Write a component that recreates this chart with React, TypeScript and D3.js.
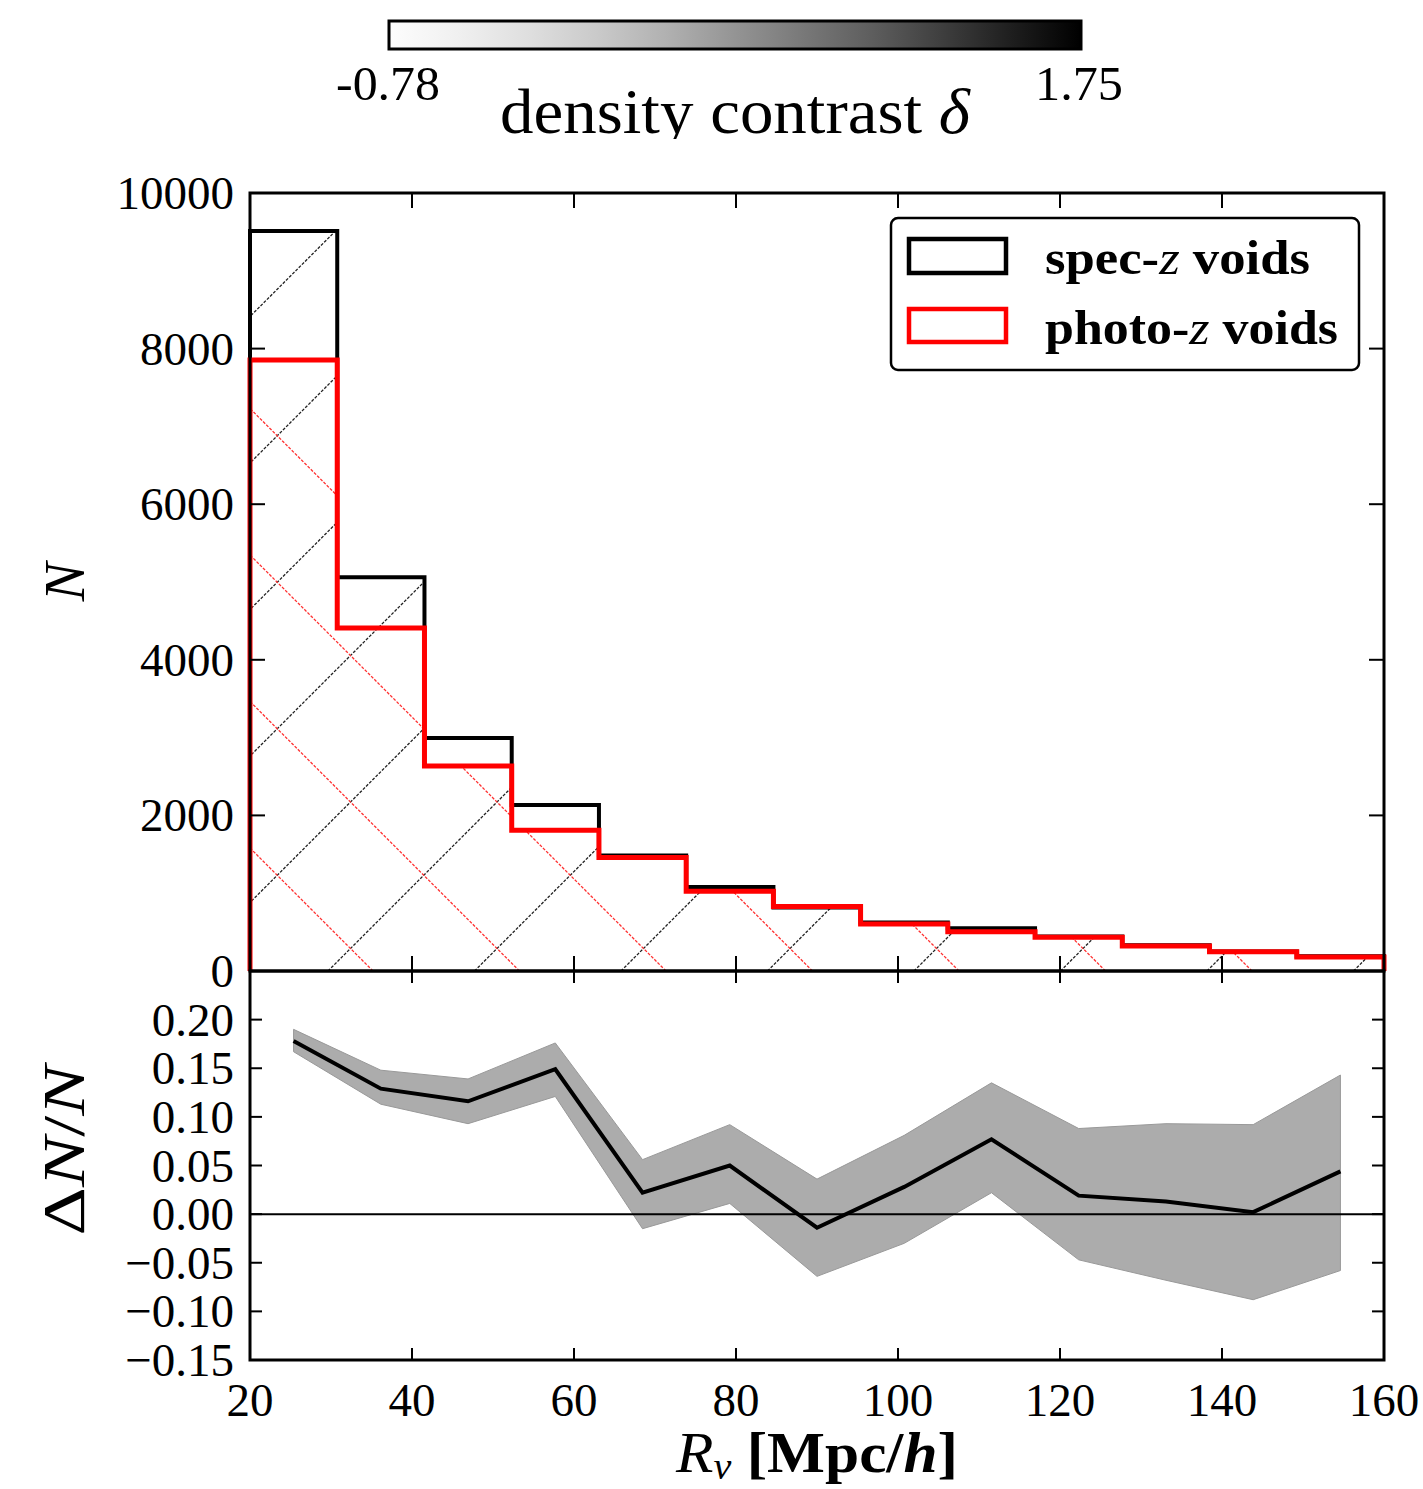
import React from "react";
import * as d3 from "d3";

// ---------- data ----------
const binEdges = [20, 30.77, 41.54, 52.31, 63.08, 73.85, 84.62, 95.38, 106.15, 116.92, 127.69, 138.46, 149.23, 160];
const specCounts = [9510, 5060, 2995, 2135, 1485, 1080, 817, 625, 550, 445, 330, 250, 188];
const photoCounts = [7855, 4410, 2635, 1810, 1460, 1025, 828, 605, 505, 435, 322, 247, 180];

const binCenters = [25.38, 36.15, 46.92, 57.69, 68.46, 79.23, 90.0, 100.77, 111.54, 122.31, 133.08, 143.85, 154.62];
const ratio = [0.178, 0.129, 0.116, 0.149, 0.022, 0.05, -0.014, 0.028, 0.077, 0.019, 0.013, 0.002, 0.044];
const ratioUpper = [0.19, 0.148, 0.139, 0.176, 0.056, 0.092, 0.036, 0.081, 0.135, 0.088, 0.093, 0.092, 0.143];
const ratioLower = [0.167, 0.113, 0.093, 0.121, -0.015, 0.011, -0.064, -0.03, 0.022, -0.047, -0.068, -0.088, -0.058];

const xTicks = [20, 40, 60, 80, 100, 120, 140, 160];
const topYTicks = [0, 2000, 4000, 6000, 8000, 10000];
const botYTicks = [-0.15, -0.1, -0.05, 0, 0.05, 0.1, 0.15, 0.2];
const botYLabels = ["\u22120.15", "\u22120.10", "\u22120.05", "0.00", "0.05", "0.10", "0.15", "0.20"];
const cbarMin = "-0.78";
const cbarMax = "1.75";

// ---------- layout ----------
const W = 1423, H = 1489;
const L = 250, R = 1384;
const topT = 193, topB = 971;
const botT = 971, botB = 1360;
const FONT = "'Liberation Serif', 'DejaVu Serif', serif";

const x = d3.scaleLinear().domain([20, 160]).range([L, R]);
const yTop = d3.scaleLinear().domain([0, 10000]).range([topB, topT]);
const yBot = d3.scaleLinear().domain([-0.15, 0.25]).range([botB, botT]);

function stepPoints(vals: number[]): [number, number][] {
  const pts: [number, number][] = [[binEdges[0], 0]];
  vals.forEach((v, i) => {
    pts.push([binEdges[i], v]);
    pts.push([binEdges[i + 1], v]);
  });
  pts.push([binEdges[binEdges.length - 1], 0]);
  return pts;
}

const stepLine = d3.line<[number, number]>().x(d => x(d[0])).y(d => yTop(d[1]));

function hatchLines(dir: 1 | -1, start: number, spacing: number) {
  const lines: JSX.Element[] = [];
  for (let k = -8; k <= 10; k++) {
    const x0 = start + k * spacing;
    const x1 = x0 + dir * 900;
    lines.push(<line key={k} x1={x0} y1={topB} x2={x1} y2={topB - 900} />);
  }
  return lines;
}

const TICK_FS = 47;

export default function App() {
  const specD = stepLine(stepPoints(specCounts)) || "";
  const photoD = stepLine(stepPoints(photoCounts)) || "";

  const band = d3.area<number>()
    .x((_, i) => x(binCenters[i]))
    .y0((_, i) => yBot(ratioLower[i]))
    .y1((_, i) => yBot(ratioUpper[i]));
  const ratioLine = d3.line<number>().x((_, i) => x(binCenters[i])).y(d => yBot(d));

  const gradStops = d3.range(0, 1.0001, 0.1).map(t => ({ t, c: d3.interpolateGreys(0.02 + t * 0.98) }));

  const tickLen = 15;
  const tickLenB = 12;

  return (
    <svg width={W} height={H} style={{ position: "absolute", left: 0, top: 0, background: "#fff" }} fontFamily={FONT}>
      <defs>
        <linearGradient id="cbar" x1="0" x2="1" y1="0" y2="0">
          {gradStops.map(s => <stop key={s.t} offset={s.t} stopColor={s.c} />)}
        </linearGradient>
        <clipPath id="specClip"><path d={specD + "Z"} /></clipPath>
        <clipPath id="photoClip"><path d={photoD + "Z"} /></clipPath>
        <clipPath id="cbLabelClip"><rect x={0} y={0} width={W} height={139} /></clipPath>
      </defs>
      <rect x={0} y={0} width={W} height={H} fill="#fff" />

      {/* colorbar */}
      <rect x={389} y={21} width={692} height={28} fill="url(#cbar)" stroke="#000" strokeWidth={3} />
      <text x={388} y={100} fontSize={48} textAnchor="middle" textLength={104} lengthAdjust="spacingAndGlyphs">{cbarMin}</text>
      <text x={1079} y={100} fontSize={48} textAnchor="middle" textLength={88} lengthAdjust="spacingAndGlyphs">{cbarMax}</text>
      <text x={735} y={133} fontSize={64} textAnchor="middle" clipPath="url(#cbLabelClip)" textLength={470} lengthAdjust="spacingAndGlyphs">
        density contrast <tspan fontStyle="italic">δ</tspan>
      </text>

      {/* top panel hatches */}
      <g clipPath="url(#specClip)" stroke="#222" strokeWidth={1.3} strokeDasharray="3 1.5" fill="none">
        {hatchLines(1, 328, 146.5)}
      </g>
      <g clipPath="url(#photoClip)" stroke="#ff3030" strokeWidth={1.3} strokeDasharray="3 1.5" fill="none">
        {hatchLines(-1, 373, 146.5)}
      </g>
      <path d={specD} fill="none" stroke="#000" strokeWidth={4} />
      <path d={photoD} fill="none" stroke="#ff0000" strokeWidth={5} />

      {/* ticks */}
      <g stroke="#000" strokeWidth={2}>
        {xTicks.slice(1, -1).map(t => (
          <g key={"tx" + t}>
            <line x1={x(t)} x2={x(t)} y1={topT} y2={topT + tickLen} />
            <line x1={x(t)} x2={x(t)} y1={topB} y2={topB - tickLen} />
            <line x1={x(t)} x2={x(t)} y1={botT} y2={botT + tickLenB} />
            <line x1={x(t)} x2={x(t)} y1={botB} y2={botB - tickLenB} />
          </g>
        ))}
        {topYTicks.slice(1, -1).map(t => (
          <g key={"ty" + t}>
            <line x1={L} x2={L + tickLen} y1={yTop(t)} y2={yTop(t)} />
            <line x1={R} x2={R - tickLen} y1={yTop(t)} y2={yTop(t)} />
          </g>
        ))}
      </g>
      <rect x={L} y={topT} width={R - L} height={topB - topT} fill="none" stroke="#000" strokeWidth={3} />

      {/* top y tick labels */}
      {topYTicks.map(t => (
        <text key={"tyl" + t} x={234} y={yTop(t) + 16} fontSize={TICK_FS} textAnchor="end">{t}</text>
      ))}
      <text transform={`translate(84, ${(topT + topB) / 2}) rotate(-90)`} fontSize={58} fontStyle="italic" textAnchor="middle">N</text>

      {/* legend */}
      <rect x={891} y={218} width={468} height={152} rx={7} fill="#fff" stroke="#000" strokeWidth={2.5} />
      <rect x={909} y={239} width={97} height={34} fill="none" stroke="#000" strokeWidth={4.5} />
      <rect x={909} y={309} width={97} height={33} fill="none" stroke="#ff0000" strokeWidth={4.5} />
      <text x={1045} y={274} fontSize={48} fontWeight="bold" textLength={265} lengthAdjust="spacingAndGlyphs">
        spec-<tspan fontStyle="italic" fontWeight="normal">z</tspan> voids
      </text>
      <text x={1045} y={344} fontSize={48} fontWeight="bold" textLength={293} lengthAdjust="spacingAndGlyphs">
        photo-<tspan fontStyle="italic" fontWeight="normal">z</tspan> voids
      </text>

      {/* bottom panel */}
      <path d={band(ratio) || ""} fill="#acacac" stroke="#999" strokeWidth={1} />
      <line x1={L} x2={R} y1={yBot(0)} y2={yBot(0)} stroke="#000" strokeWidth={2} />
      <path d={ratioLine(ratio) || ""} fill="none" stroke="#000" strokeWidth={4} strokeLinejoin="miter" />
      <g stroke="#000" strokeWidth={2}>
        {botYTicks.map(t => (
          <g key={"by" + t}>
            <line x1={L} x2={L + tickLenB} y1={yBot(t)} y2={yBot(t)} />
            <line x1={R} x2={R - tickLenB} y1={yBot(t)} y2={yBot(t)} />
          </g>
        ))}
      </g>
      <rect x={L} y={botT} width={R - L} height={botB - botT} fill="none" stroke="#000" strokeWidth={3} />
      {botYTicks.map((t, i) => (
        <text key={"byl" + t} x={234} y={yBot(t) + 16} fontSize={TICK_FS} textAnchor="end">{botYLabels[i]}</text>
      ))}
      <text transform={`translate(84, ${(botT + botB) / 2 - 15}) rotate(-90)`} fontSize={60} textAnchor="middle" textLength={170} lengthAdjust="spacingAndGlyphs">
        Δ<tspan fontStyle="italic">N</tspan>/<tspan fontStyle="italic">N</tspan>
      </text>

      {/* x tick labels */}
      {xTicks.map(t => (
        <text key={"xl" + t} x={x(t)} y={1416} fontSize={TICK_FS} textAnchor="middle">{t}</text>
      ))}
      <text x={817} y={1472} fontSize={58} textAnchor="middle" textLength={282} lengthAdjust="spacingAndGlyphs">
        <tspan fontStyle="italic">R</tspan>
        <tspan fontStyle="italic" fontSize={38} dy={7}>v</tspan>
        <tspan dy={-7} fontWeight="bold"> [Mpc/</tspan>
        <tspan fontWeight="bold" fontStyle="italic">h</tspan>
        <tspan fontWeight="bold">]</tspan>
      </text>
    </svg>
  );
}
